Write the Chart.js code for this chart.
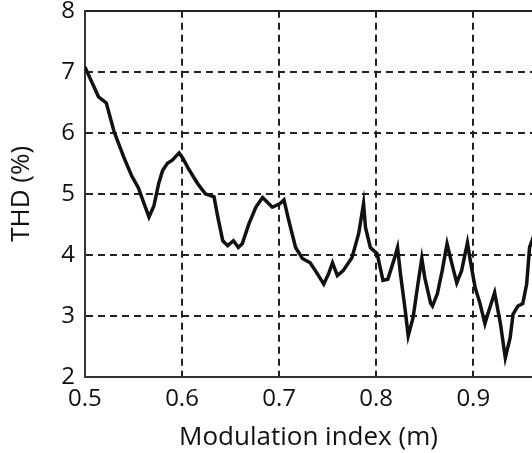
<!DOCTYPE html>
<html>
<head>
    <title>THD vs modulation index</title>
    <script src="https://cdn.jsdelivr.net/npm/chart.js"></script>
    <style>
        html, body {
            margin: 0;
            padding: 0;
            background: #ffffff;
            overflow: hidden;
        }
        #wrap {
            position: absolute;
            left: 0;
            top: 0;
            width: 532px;
            height: 453px;
        }
    </style>
</head>
<body>
<div id="wrap"><canvas id="chart"></canvas></div>

<script>
    // modulation index (m)
    var mIndex = [
        0.500, 0.506, 0.514, 0.522, 0.530, 0.540, 0.548, 0.555, 0.560, 0.566,
        0.571, 0.576, 0.580, 0.585, 0.590, 0.597, 0.601, 0.606, 0.616, 0.624,
        0.633, 0.637, 0.642, 0.647, 0.653, 0.658, 0.662, 0.669, 0.676, 0.683,
        0.693, 0.701, 0.705, 0.710, 0.717, 0.724, 0.732, 0.739, 0.746, 0.751,
        0.755, 0.760, 0.766, 0.775, 0.782, 0.787, 0.789, 0.794, 0.801, 0.807,
        0.812, 0.818, 0.822, 0.825, 0.830, 0.833, 0.838, 0.843, 0.847, 0.850,
        0.856, 0.858, 0.863, 0.868, 0.873, 0.878, 0.883, 0.888, 0.894, 0.897,
        0.902, 0.907, 0.912, 0.915, 0.922, 0.928, 0.933, 0.938, 0.941, 0.946,
        0.951, 0.955, 0.958, 0.962
    ];

    // THD (%)
    var thd = [
        7.08, 6.87, 6.59, 6.49, 6.02, 5.60, 5.30, 5.10, 4.88, 4.62,
        4.80, 5.17, 5.38, 5.50, 5.55, 5.67, 5.58, 5.43, 5.17, 5.00,
        4.95, 4.61, 4.23, 4.15, 4.23, 4.12, 4.18, 4.51, 4.78, 4.94,
        4.78, 4.84, 4.90, 4.56, 4.12, 3.94, 3.87, 3.70, 3.52, 3.69,
        3.87, 3.66, 3.74, 3.95, 4.35, 4.84, 4.45, 4.12, 4.02, 3.58,
        3.60, 3.90, 4.12, 3.69, 3.08, 2.67, 2.97, 3.52, 3.94, 3.63,
        3.21, 3.16, 3.36, 3.74, 4.18, 3.85, 3.54, 3.74, 4.20, 3.90,
        3.46, 3.20, 2.87, 3.03, 3.38, 2.87, 2.31, 2.64, 3.03, 3.16,
        3.20, 3.52, 4.12, 4.30
    ];

    var xMin = 0.5, xMax = 0.9605, xStep = 0.1;
    var yMin = 2, yMax = 8, yStep = 1;

    var points = mIndex.map(function (m, i) {
        return { x: m, y: thd[i] };
    });

    var fontFamily = "'Open Sans', 'Noto Sans', sans-serif";

    new Chart(document.getElementById('chart'), {
        type: 'line',
        data: {
            datasets: [{
                data: points,
                borderColor: '#111111',
                borderWidth: 3.5,
                pointRadius: 0,
                tension: 0,
                fill: false
            }]
        },
        options: {
            responsive: true,
            maintainAspectRatio: false,
            animation: false,
            layout: { padding: 0 },
            plugins: {
                legend: { display: false },
                tooltip: { enabled: false }
            },
            scales: {
                x: {
                    type: 'linear',
                    min: xMin,
                    max: xMax,
                    ticks: {
                        stepSize: xStep,
                        includeBounds: false,
                        padding: 10,
                        color: '#111',
                        font: { family: fontFamily, size: 24, lineHeight: 1 },
                        callback: function (v) { return v.toFixed(1); }
                    },
                    grid: {
                        color: '#222',
                        lineWidth: 2,
                        drawTicks: false
                    },
                    border: {
                        display: true,
                        color: '#333',
                        width: 2,
                        dash: [7, 5]
                    },
                    title: {
                        display: true,
                        text: 'Modulation index (m)',
                        color: '#111',
                        font: { family: fontFamily, size: 26 },
                        padding: { top: 1, bottom: 0 }
                    }
                },
                y: {
                    min: yMin,
                    max: yMax,
                    ticks: {
                        stepSize: yStep,
                        padding: 0,
                        color: '#111',
                        font: { family: fontFamily, size: 24, lineHeight: 0.9 }
                    },
                    grid: {
                        color: '#222',
                        lineWidth: 2,
                        drawTicks: true,
                        tickLength: 10,
                        tickColor: 'rgba(0,0,0,0)'
                    },
                    border: {
                        display: true,
                        color: '#333',
                        width: 2,
                        // top line of the frame is solid, the rest dashed
                        dash: function (ctx) {
                            return (ctx.tick && ctx.tick.value === yMax) ? [] : [7, 5];
                        }
                    },
                    title: {
                        display: true,
                        text: 'THD (%)',
                        color: '#111',
                        font: { family: fontFamily, size: 26 },
                        padding: { top: 6, bottom: 24 }
                    }
                }
            }
        }
    });
</script>
</body>
</html>
